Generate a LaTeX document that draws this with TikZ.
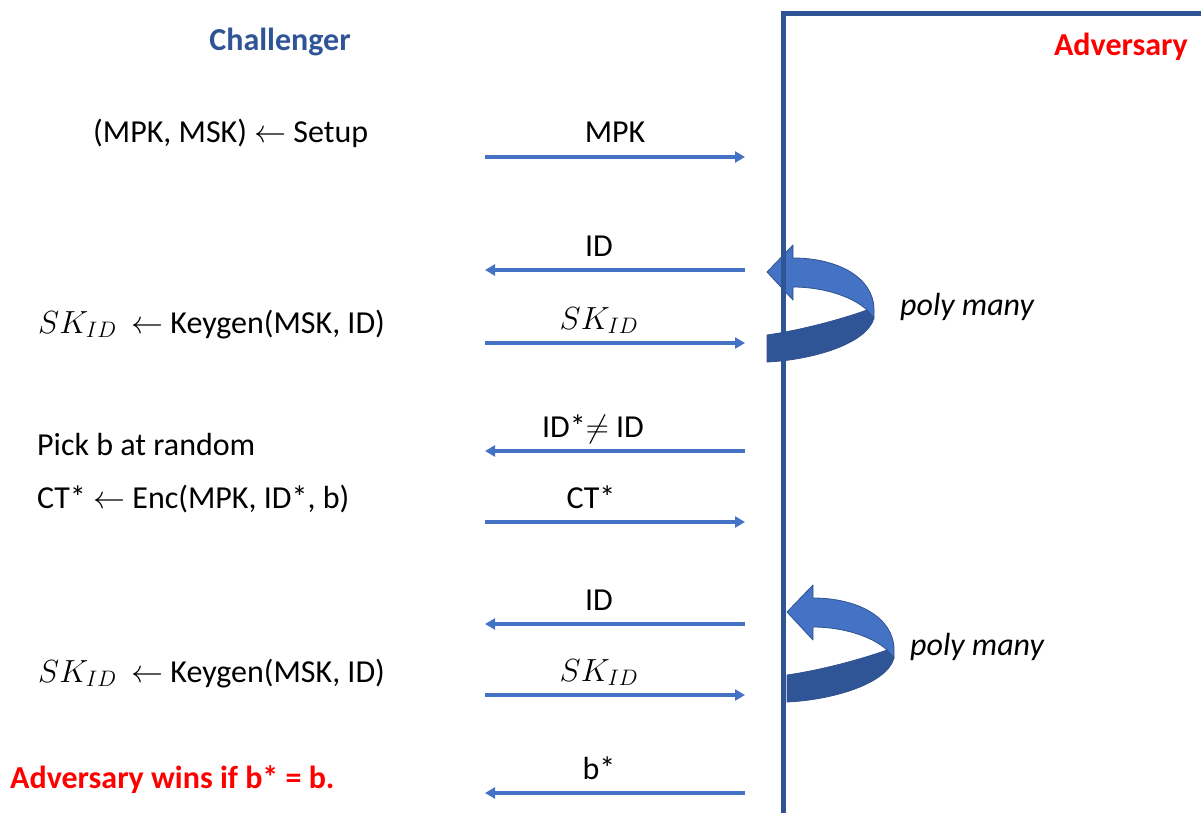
\RequirePackage{fix-cm}
\documentclass[tikz,border=0pt]{standalone}
\usepackage{fontspec}
\setmainfont{Carlito}
\usepackage{tikz}
\usetikzlibrary{arrows.meta, positioning}

\definecolor{msgblue}{HTML}{4472C4}
\definecolor{boxblue}{HTML}{2F5597}
\definecolor{edgeblue}{HTML}{2F528F}
\definecolor{winred}{HTML}{FF0000}

\begin{document}
\begin{tikzpicture}[x=1pt, y=-1pt,
    every node/.style={font=\fontsize{32}{38}\selectfont, inner sep=0pt},
    msg/.style={draw=msgblue, line width=3.5pt, -{Triangle[length=10pt, width=11pt]}},
    lbl/.style={midway, anchor=base, yshift=14pt, xshift=-16pt},
    side/.style={anchor=base west},
    heading/.style={font=\fontsize{32}{38}\selectfont\bfseries},
    loopup/.style={fill=msgblue, draw=edgeblue, line width=0.8pt, line join=round},
    loopdown/.style={fill=boxblue, draw=edgeblue, line width=0.8pt, line join=round},
    polyloop/.pic={
        \draw[loopdown] (100,38) .. controls (75,47) and (35,58) .. (0,63) -- (0,90)
            .. controls (45,88) and (100,72) .. (107,46) -- cycle;
        \draw[loopup] (26,-14) .. controls (70,-14) and (107,5) .. (107,38) -- (107,46) -- (100,38)
            .. controls (85,24) and (55,15) .. (26,15) -- (26,28) -- (0,0) -- (26,-27) -- cycle;
    }]

    \useasboundingbox (0,0) rectangle (1201,813);

    % the two repeated query phases
    \pic at (767,272) {polyloop};
    \pic at (787,612) {polyloop};

    % adversary box
    \draw[boxblue, line width=5pt] (1201,13.5) -- (783.5,13.5) -- (783.5,813);

    \node[heading, text=boxblue] (chal) at (280,42) {Challenger};
    \node[heading, text=winred, anchor=east] (adv) at (1188,47) {Adversary};

    % challenger side
    \node[side] (setup) at (93,143) {(MPK, MSK) $\leftarrow$ Setup};
    \node[side] (keyA) at (38,333) {$SK_{ID}$~~$\leftarrow$ Keygen(MSK, ID)};
    \node[side] (pick) at (37,455) {Pick b at random};
    \node[side] (enc) at (37,508) {CT* $\leftarrow$ Enc(MPK, ID*, b)};
    \node[side] (keyB) at (38,682) {$SK_{ID}$~~$\leftarrow$ Keygen(MSK, ID)};
    \node[side, heading, text=winred] (wins) at (10,788) {Adversary wins if b* = b.};

    \node[side, font=\fontsize{32}{38}\selectfont\itshape] (polyA) at (900,315) {poly many};
    \node[side, font=\fontsize{32}{38}\selectfont\itshape] (polyB) at (910,655) {poly many};

    % message ends
    \coordinate (c1) at (485,157);  \coordinate (a1) at (745,157);
    \coordinate (c2) at (485,270);  \coordinate (a2) at (745,270);
    \coordinate (c3) at (485,343);  \coordinate (a3) at (745,343);
    \coordinate (c4) at (485,451);  \coordinate (a4) at (745,451);
    \coordinate (c5) at (485,522);  \coordinate (a5) at (745,522);
    \coordinate (c6) at (485,624);  \coordinate (a6) at (745,624);
    \coordinate (c7) at (485,695);  \coordinate (a7) at (745,695);
    \coordinate (c8) at (485,793);  \coordinate (a8) at (745,793);

    \draw[msg] (c1) -- node[lbl, xshift=16pt] (mpk) {MPK} (a1);
    \draw[msg] (a2) -- node[lbl] (idA) {ID} (c2);
    \draw[msg] (c3) -- node[lbl] (skA) {$SK_{ID}$} (a3);
    \draw[msg] (a4) -- node[lbl, xshift=-6pt] (idstar) {ID*$\neq$ ID} (c4);
    \draw[msg] (c5) -- node[lbl, xshift=-8pt] (ct) {CT*} (a5);
    \draw[msg] (a6) -- node[lbl] (idB) {ID} (c6);
    \draw[msg] (c7) -- node[lbl] (skB) {$SK_{ID}$} (a7);
    \draw[msg] (a8) -- node[lbl] (bstar) {b*} (c8);
\end{tikzpicture}
\end{document}
